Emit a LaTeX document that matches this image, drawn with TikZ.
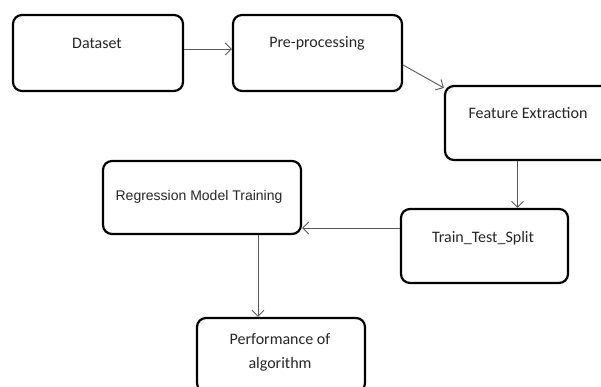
\documentclass[tikz,border=0pt]{standalone}
\usepackage{fontspec}
\setmainfont{Carlito}
\newfontfamily\arialfont{Liberation Sans}
\usetikzlibrary{arrows.meta}
\tikzset{
  stage/.style={draw=black, line width=2.2pt, rounded corners=9pt, fill=white, inner sep=0pt},
  caption/.style={font=\fontsize{16}{24}\selectfont, text=black!85, align=center, inner sep=0pt},
  flow/.style={draw=black!65, line width=0.9pt, -{Straight Barb[length=6pt,width=12pt]}}
}
\begin{document}
\begin{tikzpicture}[x=1pt,y=-1pt]
      \useasboundingbox (0,0) rectangle (601,387);
      \clip (0,0) rectangle (601,387);
      \fill[white] (0,0) rectangle (601,387);
      % boxes
      \draw
        (98,53) node[stage, minimum width=170pt, minimum height=76pt] (ds){}
        (317.5,53) node[stage, minimum width=169pt, minimum height=76pt] (pp){}
        (529.5,123) node[stage, minimum width=169pt, minimum height=74pt] (fe){}
        (484.5,246) node[stage, minimum width=167pt, minimum height=74pt] (tts){}
        (202,197.5) node[stage, minimum width=198pt, minimum height=73pt] (rmt){}
        (281,355) node[stage, minimum width=168pt, minimum height=74pt] (perf){};
      % texts
      \draw
        (97,43) node[caption] (ds-t){Dataset}
        (317,43) node[caption] (pp-t){Pre-processing}
        (528,113) node[caption] (fe-t){Feature Extraction}
        (483,238) node[caption] (tts-t){Train\_Test\_Split}
        (199,197) node[caption, font=\arialfont\fontsize{14}{17}\selectfont] (rmt-t){Regression Model Training}
        (280,352) node[caption] (perf-t){Performance of\\algorithm};
      \begin{scope}[flow]
        \draw ([yshift=4pt]ds.east) to ([yshift=4pt]pp.west);
        \draw ([yshift=-12pt]pp.east) to ([yshift=-3pt]fe.north west);
        \draw ([xshift=-12pt]fe.south) to ([xshift=-12pt]fe.south |- tts.north);
        \draw ([yshift=18pt]tts.west) to ([yshift=18pt]tts.west -| rmt.east);
        \draw ([xshift=56pt]rmt.south) to ([xshift=56pt]rmt.south |- perf.north);
      \end{scope}
    \end{tikzpicture}
\end{document}
